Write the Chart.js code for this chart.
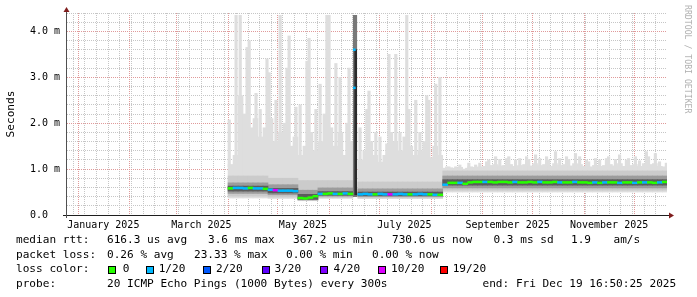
<!DOCTYPE html>
<html>
<head>
<meta charset="utf-8">
<title>smokeping</title>
<script src="https://cdn.jsdelivr.net/npm/chart.js@4.4.1/dist/chart.umd.min.js"></script>
<style>
  body { margin: 0; background: #fff; }
  #wrap { position: relative; width: 697px; height: 297px; overflow: hidden; background: #fff; }
  #c { position: absolute; left: 0; top: 0; }
  .lg { position: absolute; font: 11.1px "DejaVu Sans Mono", monospace; color: #000; line-height: 14px; white-space: pre; }
  .sq { position: absolute; top: 266px; width: 6px; height: 6px; border: 1px solid #000; }
  #wm { position: absolute; left: 693px; top: 5px; font: 8.2px "DejaVu Sans Mono", monospace; color: #b0b0b0;
        line-height: 10px; white-space: pre; transform: rotate(90deg); transform-origin: 0 0; }
</style>
</head>
<body>
<div id="wrap">
  <canvas id="c" width="697" height="297"></canvas>

  <div class="lg" style="left:16px;top:233px">median rtt:</div>
  <div class="lg" style="left:107px;top:233px">616.3 us avg</div>
  <div class="lg" style="left:208px;top:233px">3.6 ms max</div>
  <div class="lg" style="left:293px;top:233px">367.2 us min</div>
  <div class="lg" style="left:392px;top:233px">730.6 us now</div>
  <div class="lg" style="left:493.5px;top:233px">0.3 ms sd</div>
  <div class="lg" style="left:571px;top:233px">1.9</div>
  <div class="lg" style="left:613.5px;top:233px">am/s</div>

  <div class="lg" style="left:16px;top:247.5px">packet loss:</div>
  <div class="lg" style="left:107px;top:247.5px">0.26 % avg</div>
  <div class="lg" style="left:194px;top:247.5px">23.33 % max</div>
  <div class="lg" style="left:286px;top:247.5px">0.00 % min</div>
  <div class="lg" style="left:372px;top:247.5px">0.00 % now</div>

  <div class="lg" style="left:16px;top:262px">loss color:</div>
  <div class="sq" style="left:108px;background:#26ff00"></div><div class="lg" style="left:122.7px;top:262px">0</div>
  <div class="sq" style="left:145.5px;background:#00b8ff"></div><div class="lg" style="left:158.7px;top:262px">1/20</div>
  <div class="sq" style="left:202.5px;background:#0059ff"></div><div class="lg" style="left:216px;top:262px">2/20</div>
  <div class="sq" style="left:261.5px;background:#5e00ff"></div><div class="lg" style="left:274.5px;top:262px">3/20</div>
  <div class="sq" style="left:320px;background:#7e00ff"></div><div class="lg" style="left:333.5px;top:262px">4/20</div>
  <div class="sq" style="left:377.5px;background:#dd00ff"></div><div class="lg" style="left:391px;top:262px">10/20</div>
  <div class="sq" style="left:440px;background:#ff0000"></div><div class="lg" style="left:452.7px;top:262px">19/20</div>

  <div class="lg" style="left:16px;top:276.5px">probe:</div>
  <div class="lg" style="left:107px;top:276.5px">20 ICMP Echo Pings (1000 Bytes) every 300s</div>
  <div class="lg" style="left:482.5px;top:276.5px">end: Fri Dec 19 16:50:25 2025</div>

  <div id="wm">RRDTOOL / TOBI OETIKER</div>
</div>

<script>
// time axis is in days since 1 Jan 2025, values in milliseconds
const xMinDay = -6.8
const xMaxDay = 353.8

const monthStarts = [0, 31, 59, 90, 120, 151, 181, 212, 243, 273, 304, 334]
const labelDays = [15, 74, 135, 196, 258, 319]
const labelTexts = ['January 2025', 'March 2025', 'May 2025', 'July 2025', 'September 2025', 'November 2025']

const yTicks = [0, 0.2, 0.4, 0.6, 0.8, 1, 1.2, 1.4, 1.6, 1.8, 2, 2.2, 2.4, 2.6, 2.8, 3, 3.2, 3.4, 3.6, 3.8, 4, 4.2, 4.4]
const yMajor = [0, 1, 2, 3, 4]
const yMajorLabels = ['0.0  ', '1.0 m', '2.0 m', '3.0 m', '4.0 m']

// 3 day buckets starting 1 Apr 2025 (day 90)
const bucketStart = 90
const bucketSpan = 3

// top of the dense light smoke per bucket
const baseVals = [
  1.1, 1.3, 2.6, 2.2, 1.9, 2.1, 1.7, 1.9,
  2.1, 1.6, 1.8, 2.0, 1.5, 1.7,
  1.3, 1.5, 1.8, 1.4,
  1.6, 2.2, 1.9, 1.5, 1.8, 1.3, 1.6,
  null,
  1.2, 1.4, 1.6, 1.3, 1.15, 1.3, 1.8, 1.6, 1.4, 1.7, 1.5, 1.3, 1.4, 1.6, 1.25, 1.5, 1.3,
  1.02, 1.03, 1.02, 1.04, 1.0, 1.05, 1.04, 1.05, 1.06, 1.08,
  1.1, 1.07, 1.08, 1.1, 1.06, 1.08, 1.1, 1.07, 1.12, 1.08,
  1.1, 1.06, 1.12, 1.08, 1.1, 1.07, 1.12, 1.1, 1.06, 1.05,
  1.08, 1.06, 1.08, 1.1, 1.07, 1.12, 1.06, 1.08, 1.1, 1.06,
  1.12, 1.1, 1.12, 1.06, 1.05
]

// highest ping per bucket (thin spikes)
const hiVals = [
  2.07, 4.35, 4.35, 3.65, 3.8, 2.65, 2.3, 3.4,
  3.1, 2.5, 4.35, 3.2, 3.9, 2.35,
  2.4, 3.35, 3.85, 2.3,
  2.85, 4.35, 4.35, 3.3, 3.0, 2.0, 3.2,
  null,
  1.9, 2.3, 2.7, 1.8, 1.7, 1.55, 3.5, 3.5, 1.8, 4.35, 2.3, 2.5, 1.8, 2.6, 2.5, 2.85, 3.0,
  1.05, 1.05, 1.05, 1.09, 1.02, 1.13, 1.09, 1.13, 1.16, 1.2,
  1.27, 1.21, 1.23, 1.27, 1.2, 1.23, 1.27, 1.21, 1.31, 1.23,
  1.27, 1.2, 1.38, 1.23, 1.27, 1.21, 1.34, 1.27, 1.2, 1.16,
  1.23, 1.2, 1.23, 1.27, 1.21, 1.31, 1.2, 1.23, 1.27, 1.18,
  1.38, 1.27, 1.34, 1.16, 1.13
]

// median rtt per bucket
const medVals = [
  0.58, 0.59, 0.59, 0.58, 0.59, 0.58, 0.58, 0.57,
  0.55, 0.54, 0.53, 0.53, 0.53, 0.52,
  0.37, 0.36, 0.38, 0.41,
  0.46, 0.46, 0.47, 0.46, 0.46, 0.47, 0.46,
  null,
  0.45, 0.46, 0.45, 0.45, 0.46, 0.45, 0.45, 0.45, 0.46, 0.45, 0.45, 0.45, 0.46, 0.45, 0.45, 0.44, 0.44,
  0.66, 0.70, 0.70, 0.70, 0.68, 0.71, 0.72, 0.72, 0.72, 0.72,
  0.71, 0.72, 0.72, 0.71, 0.72, 0.71, 0.71, 0.72, 0.71, 0.72,
  0.71, 0.71, 0.72, 0.71, 0.71, 0.71, 0.72, 0.71, 0.71, 0.70,
  0.71, 0.70, 0.71, 0.71, 0.71, 0.70, 0.71, 0.71, 0.70, 0.71,
  0.71, 0.71, 0.70, 0.71, 0.72
]

// lost pings (of 20) per bucket
const lossVals = [
  0, 1, 1, 1, 0, 1, 1, 0,
  1, 10, 1, 1, 1, 1,
  0, 0, 0, 0,
  1, 0, 0, 1, 0, 1, 0,
  null,
  1, 1, 1, 0, 1, 1, 10, 1, 1, 1, 0, 1, 1, 1, 0, 1, 0,
  1, 0, 0, 1, 0, 0, 0, 0, 1, 0,
  0, 0, 0, 0, 1, 0, 0, 0, 0, 1,
  0, 0, 0, 1, 0, 0, 1, 0, 0, 0,
  1, 0, 1, 0, 0, 1, 0, 0, 1, 0,
  1, 0, 0, 1, 0
]

// smoke bands, per stretch of buckets
const segFirst  = [0, 8, 14, 18, 26, 43]
const segLo     = [0.37, 0.36, 0.31, 0.36, 0.36, 0.50]
const segMidLo  = [0.41, 0.39, 0.32, 0.38, 0.37, 0.54]
const segMidHi  = [0.85, 0.80, 0.75, 0.75, 0.72, 0.96]
const segInLo   = [0.47, 0.44, 0.33, 0.41, 0.40, 0.59]
const segInHi   = [0.70, 0.66, 0.54, 0.59, 0.57, 0.85]
const segCoreLo = [0.52, 0.48, 0.34, 0.43, 0.42, 0.65]
const segCoreHi = [0.63, 0.58, 0.45, 0.51, 0.50, 0.77]

// the outage in mid June
const spikeDay = [166.3]
const spikeLo = [0.40]
const spikeHi = [4.35]
const spikeCoreLo = [0.44]
const spikeCoreHi = [3.6]
const spikeMedDay = [165.9, 165.9]
const spikeMeds = [3.6, 2.77]
const spikeLoss = [1, 1]

const lossSteps = [0, 1, 2, 3, 4, 10, 19]
const lossColors = ['#26ff00', '#00b8ff', '#0059ff', '#5e00ff', '#7e00ff', '#dd00ff', '#ff0000']

function lossColor (n) {
  let c = lossColors[0]
  lossSteps.forEach((s, i) => { if (n >= s) c = lossColors[i] })
  return c
}

function segOf (k) {
  let s = 0
  segFirst.forEach((f, i) => { if (k >= f) s = i })
  return s
}

function bucketX (k) {
  return bucketStart + bucketSpan * k + bucketSpan / 2
}

function band (loArr, hiArr) {
  const out = []
  hiVals.forEach((h, k) => {
    if (h === null) return
    const s = segOf(k)
    out.push({ x: bucketX(k), y: [loArr[s], hiArr[s]] })
  })
  return out
}

// dense light smoke and the thin spikes above it
const outer = []
const spikes = []
hiVals.forEach((h, k) => {
  if (h === null) return
  outer.push({ x: bucketX(k), y: [segLo[segOf(k)], baseVals[k]] })
  // nudge the spike around inside its bucket so it does not look like a comb
  const nudge = [-0.8, 0.3, -0.2, 0.9][k % 4]
  spikes.push({ x: bucketX(k) + nudge, y: [baseVals[k] - 0.05, h] })
})

const medHalf = 0.02
const medData = []
const medColors = []
medVals.forEach((m, k) => {
  if (m === null) return
  medData.push({ x: bucketX(k), y: [m - medHalf, m + medHalf] })
  medColors.push(lossColor(lossVals[k]))
})

// x ticks: weekly grid, monthly grid, and the label positions
const xKind = {}
for (let d = -3; d <= xMaxDay; d += 7) xKind[d] = 'week'
monthStarts.forEach(d => { xKind[d] = 'month' })
labelDays.forEach(d => { if (!xKind[d]) xKind[d] = 'label' })
const xTickList = Object.keys(xKind).map(Number).sort((a, b) => a - b).map(v => ({ value: v }))

const gridGray = '#c6c6c6'
const gridRed = '#e09a9a'
const monoFont = '"DejaVu Sans Mono", monospace'

const axisArrows = {
  id: 'axisArrows',
  afterDraw (chart) {
    const { ctx, chartArea: a } = chart
    ctx.save()
    ctx.lineWidth = 1
    ctx.strokeStyle = '#1e1e1e'
    ctx.beginPath()
    ctx.moveTo(a.left - 4, a.bottom + 0.5)
    ctx.lineTo(a.right + 3, a.bottom + 0.5)
    ctx.stroke()
    ctx.strokeStyle = '#505050'
    ctx.beginPath()
    ctx.moveTo(a.left - 0.5, a.bottom + 3)
    ctx.lineTo(a.left - 0.5, a.top - 3)
    ctx.stroke()
    ctx.fillStyle = '#7f1d1d'
    ctx.beginPath()
    ctx.moveTo(a.right + 7, a.bottom + 0.5)
    ctx.lineTo(a.right + 2, a.bottom - 2.5)
    ctx.lineTo(a.right + 2, a.bottom + 3.5)
    ctx.closePath()
    ctx.fill()
    ctx.beginPath()
    ctx.moveTo(a.left - 0.5, a.top - 6)
    ctx.lineTo(a.left - 3.5, a.top - 1)
    ctx.lineTo(a.left + 2.5, a.top - 1)
    ctx.closePath()
    ctx.fill()
    ctx.restore()
  }
}

new Chart(document.getElementById('c'), {
  type: 'bar',
  data: {
    datasets: [
      { label: 'spikes', data: spikes, backgroundColor: '#dedede', barThickness: 2.5, order: 10 },
      { label: 'smoke', data: outer, backgroundColor: '#dedede', barThickness: 5, order: 9 },
      { label: 'smoke2', data: band(segMidLo, segMidHi), backgroundColor: '#cbcbcb', barThickness: 5, order: 8 },
      { label: 'smoke3', data: band(segInLo, segInHi), backgroundColor: '#9c9c9c', barThickness: 5, order: 7 },
      { label: 'smoke4', data: band(segCoreLo, segCoreHi), backgroundColor: '#5c5c5c', barThickness: 5, order: 6 },
      { label: 'outage', data: spikeDay.map((d, i) => ({ x: d, y: [spikeLo[i], spikeHi[i]] })), backgroundColor: '#787878', barThickness: 3.5, order: 5 },
      { label: 'outage2', data: spikeDay.map((d, i) => ({ x: d + 0.4, y: [spikeCoreLo[i], spikeCoreHi[i]] })), backgroundColor: '#2b2b2b', barThickness: 2, order: 4 },
      { label: 'median', data: medData, backgroundColor: medColors, barThickness: 5, order: 1 },
      { label: 'median2', data: spikeMedDay.map((d, i) => ({ x: d, y: [spikeMeds[i] - medHalf, spikeMeds[i] + medHalf] })),
        backgroundColor: spikeLoss.map(lossColor), barThickness: 2, order: 0 }
    ]
  },
  options: {
    responsive: false,
    devicePixelRatio: 1,
    animation: false,
    layout: { padding: { top: 13, right: 30, left: 0, bottom: 0 } },
    datasets: { bar: { grouped: false, borderWidth: 0 } },
    plugins: { legend: { display: false }, tooltip: { enabled: false } },
    scales: {
      x: {
        type: 'linear',
        min: xMinDay,
        max: xMaxDay,
        offset: false,
        afterBuildTicks: s => { s.ticks = xTickList },
        afterFit: s => { s.height = 82 },
        grid: {
          offset: false,
          drawTicks: false,
          color: c => {
            const k = xKind[c.tick.value]
            if (k === 'month') return gridRed
            if (k === 'week') return gridGray
            return 'rgba(0,0,0,0)'
          }
        },
        border: { display: false, dash: [1, 1] },
        ticks: {
          autoSkip: false,
          maxRotation: 0,
          minRotation: 0,
          padding: 4,
          color: '#000',
          font: { family: monoFont, size: 10 },
          callback: v => {
            const i = labelDays.indexOf(v)
            return i >= 0 ? labelTexts[i] : ''
          }
        }
      },
      y: {
        type: 'linear',
        min: 0,
        max: 4.4,
        afterBuildTicks: s => { s.ticks = yTicks.map(v => ({ value: v })) },
        afterFit: s => { s.width = 67 },
        grid: {
          drawTicks: false,
          color: c => yMajor.includes(c.tick.value) ? gridRed : gridGray
        },
        border: { display: false, dash: [1, 1] },
        ticks: {
          autoSkip: false,
          padding: 7,
          color: '#000',
          font: { family: monoFont, size: 10 },
          callback: v => {
            const i = yMajor.indexOf(v)
            return i >= 0 ? yMajorLabels[i] : ''
          }
        },
        title: {
          display: true,
          text: 'Seconds',
          color: '#000',
          font: { family: monoFont, size: 11.1 },
          padding: { top: 4, bottom: 0 }
        }
      }
    }
  },
  plugins: [axisArrows]
})
</script>
</body>
</html>
